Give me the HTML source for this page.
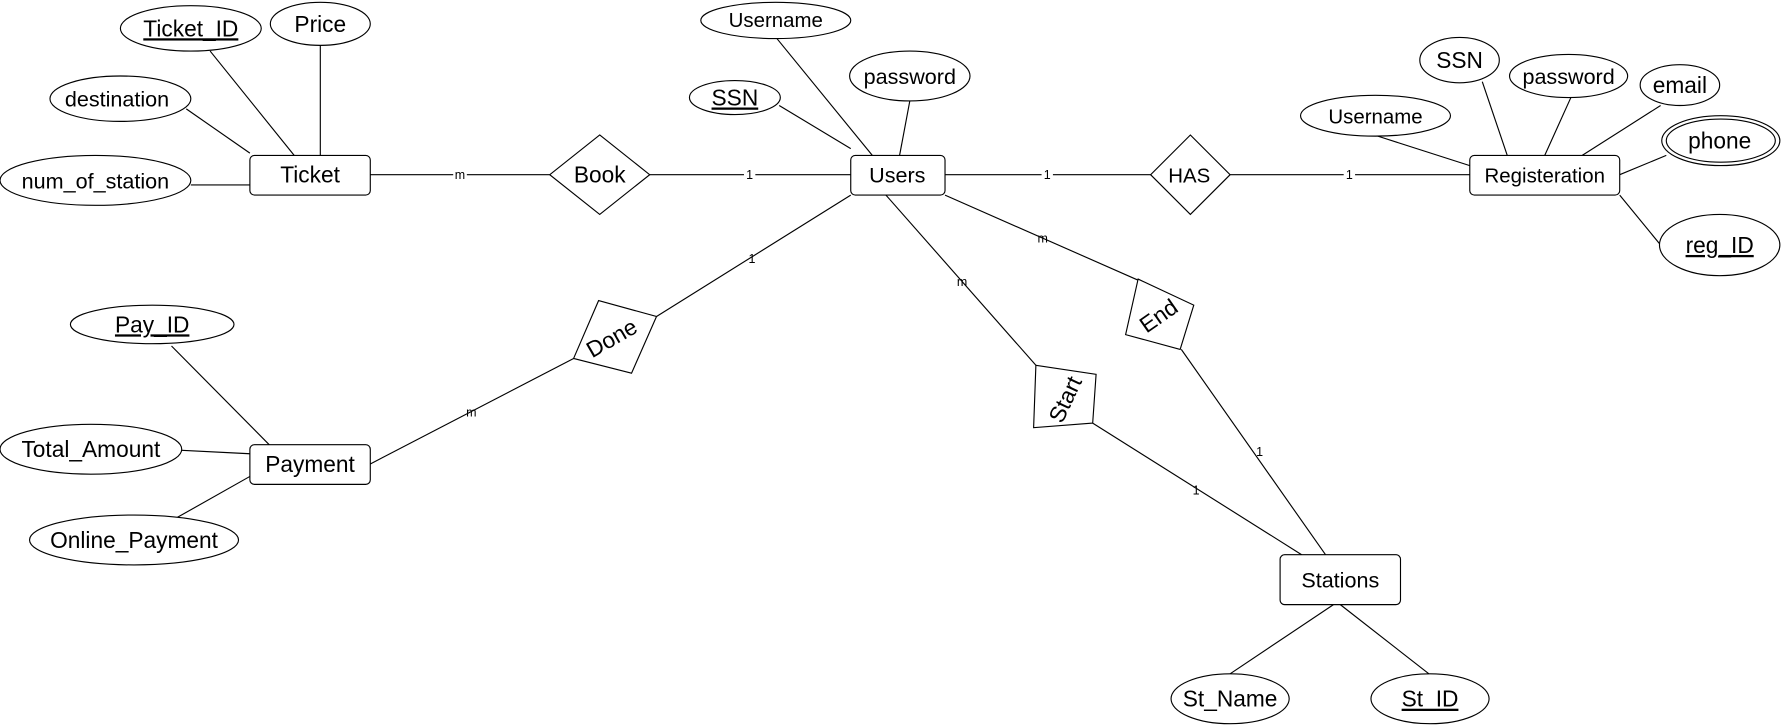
<!DOCTYPE html>
<html><head><meta charset="utf-8"><style>
html,body{margin:0;padding:0;background:#fff;}
svg{display:block;}
text{font-family:"Liberation Sans","DejaVu Sans",sans-serif;fill:#000;}
</style></head><body>
<svg width="1781" height="726" viewBox="0 0 1568 640" preserveAspectRatio="none" xmlns="http://www.w3.org/2000/svg">
<g stroke="#000" stroke-width="1" fill="none">
<!-- lines -->
<line x1="326" y1="154" x2="484" y2="154"/>
<line x1="572" y1="154" x2="749" y2="154"/>
<line x1="832" y1="154" x2="1013" y2="154"/>
<line x1="1083" y1="154" x2="1294" y2="154"/>
<line x1="185" y1="45" x2="259" y2="137"/>
<line x1="282" y1="40" x2="282" y2="137"/>
<line x1="164" y1="96" x2="220" y2="135"/>
<line x1="168" y1="163" x2="220" y2="163"/>
<line x1="684" y1="34" x2="768" y2="137"/>
<line x1="686" y1="93" x2="749" y2="131"/>
<line x1="801" y1="89" x2="792" y2="137"/>
<line x1="749" y1="172" x2="578" y2="279"/>
<line x1="505" y1="316" x2="326" y2="409"/>
<line x1="780" y1="172" x2="912" y2="322"/>
<line x1="832" y1="172" x2="1002" y2="247"/>
<line x1="962" y1="373" x2="1146" y2="489"/>
<line x1="1040" y1="308" x2="1167" y2="489"/>
<line x1="1213" y1="120" x2="1294" y2="146"/>
<line x1="1305" y1="72" x2="1327" y2="137"/>
<line x1="1383" y1="86" x2="1360" y2="137"/>
<line x1="1462" y1="93" x2="1393" y2="137"/>
<line x1="1467" y1="137" x2="1426" y2="154"/>
<line x1="1462" y1="216" x2="1426" y2="172"/>
<line x1="151" y1="305" x2="237" y2="392"/>
<line x1="160" y1="397" x2="220" y2="400"/>
<line x1="151" y1="459" x2="220" y2="420"/>
<line x1="1174" y1="533" x2="1083" y2="594"/>
<line x1="1180" y1="533" x2="1258" y2="594"/>
</g>
<g fill="#fff" stroke="#000" stroke-width="1">
<rect x="220" y="137" width="106" height="35" rx="4"/>
<rect x="749" y="137" width="83" height="35" rx="4"/>
<rect x="1294" y="137" width="132" height="35" rx="4"/>
<rect x="220" y="392" width="106" height="35" rx="4"/>
<rect x="1127" y="489" width="106" height="44" rx="4"/>
<polygon points="528,119 572,154 528,189 484,154"/>
<polygon points="1048,119 1083,154 1048,189 1013,154"/>
<polygon points="527,265 578,279 556,329 505,316"/>
<polygon points="1002,246 1051,269 1039,308 991,295"/>
<polygon points="912,322 965,330 962,373 910,377"/>
<ellipse cx="168" cy="25" rx="62" ry="20"/>
<ellipse cx="282" cy="21" rx="44" ry="19"/>
<ellipse cx="106" cy="87" rx="62" ry="20"/>
<ellipse cx="84" cy="159" rx="84" ry="22"/>
<ellipse cx="683" cy="18" rx="66" ry="16"/>
<ellipse cx="801" cy="67" rx="53" ry="22"/>
<ellipse cx="647" cy="86" rx="40" ry="15"/>
<ellipse cx="1211" cy="102" rx="66" ry="18"/>
<ellipse cx="1285" cy="53" rx="35" ry="20"/>
<ellipse cx="1381" cy="67" rx="52" ry="19"/>
<ellipse cx="1479" cy="75" rx="35" ry="18"/>
<ellipse cx="1515" cy="124" rx="52" ry="22"/>
<ellipse cx="1515" cy="124" rx="48" ry="19"/>
<ellipse cx="1514" cy="216" rx="53" ry="27"/>
<ellipse cx="134" cy="286" rx="72" ry="17"/>
<ellipse cx="80" cy="396" rx="80" ry="22"/>
<ellipse cx="118" cy="476" rx="92" ry="22"/>
<ellipse cx="1083" cy="616" rx="52" ry="22"/>
<ellipse cx="1259" cy="616" rx="52" ry="22"/>
</g>
<!-- small labels -->
<g font-size="11" text-anchor="middle">
<rect x="399" y="148" width="12" height="12" fill="#fff"/><text x="405" y="158">m</text>
<rect x="655" y="148" width="10" height="12" fill="#fff"/><text x="660" y="158">1</text>
<rect x="917" y="148" width="10" height="12" fill="#fff"/><text x="922" y="158">1</text>
<rect x="1183" y="148" width="10" height="12" fill="#fff"/><text x="1188" y="158">1</text>
<text x="662" y="232">1</text>
<text x="415" y="367">m</text>
<text x="847" y="252">m</text>
<text x="918" y="214">m</text>
<text x="1053" y="436">1</text>
<text x="1109" y="402">1</text>
</g>
<g font-size="20" text-anchor="middle">
<text x="273" y="161">Ticket</text>
<text x="528" y="161">Book</text>
<text x="790" y="161" font-size="19">Users</text>
<text x="1047" y="161" font-size="18">HAS</text>
<text x="1360" y="161" font-size="18">Registeration</text>
<text x="273" y="416">Payment</text>
<text x="1180" y="518" font-size="19">Stations</text>
<text x="168" y="32" text-decoration="underline">Ticket_ID</text>
<text x="282" y="28">Price</text>
<text x="103" y="94" font-size="19">destination</text>
<text x="84" y="166" font-size="19">num_of_station</text>
<text x="683" y="24" font-size="18">Username</text>
<text x="801" y="74" font-size="19">password</text>
<text x="647" y="93" text-decoration="underline">SSN</text>
<text x="1211" y="109" font-size="18">Username</text>
<text x="1285" y="60">SSN</text>
<text x="1381" y="74" font-size="19">password</text>
<text x="1479" y="82">email</text>
<text x="1514" y="131">phone</text>
<text x="1514" y="223" text-decoration="underline">reg_ID</text>
<text x="134" y="293" text-decoration="underline">Pay_ID</text>
<text x="80" y="403">Total_Amount</text>
<text x="118" y="483">Online_Payment</text>
<text x="1083" y="623">St_Name</text>
<text x="1259" y="623" text-decoration="underline">St_ID</text>
<text transform="translate(542,304) rotate(-30)">Done</text>
<text transform="translate(1024,284) rotate(-35)">End</text>
<text transform="translate(944,355) rotate(-65)">Start</text>
</g>
</svg>
</body></html>
